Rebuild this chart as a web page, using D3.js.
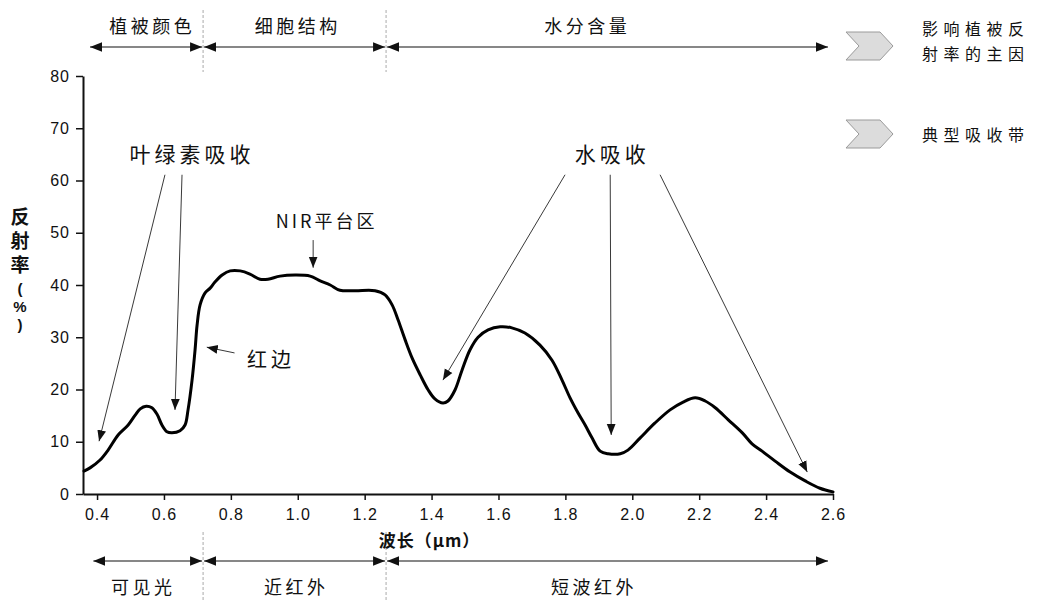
<!DOCTYPE html>
<html><head><meta charset="utf-8">
<script src="https://cdn.jsdelivr.net/npm/d3@7"></script>
<style>
body{margin:0;background:#fff;}
svg{display:block;}
text{font-family:"Liberation Sans","Noto Sans CJK SC",sans-serif;fill:#111;}
.cjk{font-family:"Noto Sans CJK SC","Liberation Sans",sans-serif;}
</style></head>
<body><svg id="chart" width="1039" height="602"></svg>
<script>
// ---- data ----
const wavelength = [0.361,0.379,0.409,0.433,0.463,0.493,0.514,0.529,0.547,0.564,0.579,0.594,0.609,0.624,0.648,0.663,0.672,0.684,0.693,0.699,0.708,0.723,0.738,0.753,0.774,0.798,0.828,0.857,0.887,0.911,0.947,0.992,1.037,1.067,1.097,1.126,1.171,1.231,1.261,1.282,1.300,1.321,1.342,1.366,1.390,1.410,1.434,1.449,1.470,1.491,1.515,1.539,1.569,1.605,1.640,1.679,1.724,1.760,1.790,1.814,1.838,1.859,1.880,1.904,1.928,1.964,1.987,2.023,2.068,2.113,2.152,2.188,2.218,2.248,2.287,2.329,2.358,2.388,2.427,2.472,2.517,2.561,2.600];
const reflectance = [4.4,5.0,6.5,8.4,11.3,13.2,15.1,16.3,16.8,16.5,15.3,13.2,11.9,11.7,12.1,13.2,16.1,21.8,27.6,32.3,36.2,38.5,39.4,40.6,41.9,42.7,42.7,42.1,41.1,41.1,41.7,41.9,41.7,40.8,40.0,39.0,38.9,38.9,38.1,36.2,33.3,29.5,26.0,22.8,19.9,18.2,17.4,17.8,19.9,23.7,27.6,30.0,31.4,32.0,31.8,30.8,28.5,25.6,21.8,18.4,15.5,13.2,10.7,8.2,7.7,7.7,8.4,10.7,13.6,16.1,17.6,18.4,17.8,16.5,14.2,11.7,9.6,8.2,6.3,4.2,2.5,1.1,0.4];
const xTicks = [0.4,0.6,0.8,1.0,1.2,1.4,1.6,1.8,2.0,2.2,2.4,2.6];
const yTicks = [0,10,20,30,40,50,60,70,80];
const xDomain = [0.358, 2.6];
const yDomain = [0, 80];
const boundaries = [0.717, 1.264];
const topLabels = ["植被颜色","细胞结构","水分含量"];
const topLabelPos = [0.56, 0.995, 1.86];
const topSpanEdges = [0.379, 0.717, 1.264, 2.585];
const bottomLabels = ["可见光","近红外","短波红外"];
const bottomLabelPos = [0.533, 0.99, 1.88];
const bottomSpanEdges = [0.389, 0.717, 1.264, 2.585];
const yLabelChars = ["反","射","率","(","%",")"];
const xLabel = "波长（μm）";
const legendLabels = [["影响植被反","射率的主因"],["典型吸收带"]];
// annotations in data coordinates [wavelength, reflectance]
const annotations = [
  {text:"叶绿素吸收", at:[0.678,65.3], size:21, ls:4, arrows:[[[0.603,61.1],[0.406,10.1]],[[0.654,61.1],[0.633,16.1]]]},
  {text:"水吸收", at:[1.934,65.3], size:21, ls:4, arrows:[[[1.799,61.1],[1.434,21.8]],[[1.934,61.1],[1.937,11.3]],[[2.083,61.1],[2.523,4.2]]]},
  {text:"NIR平台区", at:[1.082,52.4], size:18, ls:3, arrows:[[[1.046,48.6],[1.046,43.3]]]},
  {text:"红边", at:[0.848,26.0], size:20, ls:4, anchor:"start", arrows:[[[0.811,27.0],[0.728,28.1]]]}
];

// ---- drawing ----
const svg = d3.select("#chart");
const x = d3.scaleLinear().domain(xDomain).range([83, 833]);
const y = d3.scaleLinear().domain(yDomain).range([494, 76]);

const defs = svg.append("defs");
function marker(id, size){
  defs.append("marker").attr("id", id).attr("viewBox","0 0 10 10").attr("refX",10).attr("refY",5)
    .attr("markerWidth", size).attr("markerHeight", size).attr("markerUnits","userSpaceOnUse")
    .attr("orient","auto-start-reverse")
    .append("path").attr("d","M0,1 L10,5 L0,9 z").attr("fill","#111");
}
marker("ah", 11);
marker("ahs", 12);

// axes
const yAxis = d3.axisLeft(y).tickValues(yTicks).tickSize(7).tickSizeOuter(0).tickPadding(6).tickFormat(d3.format("d"));
const gy = svg.append("g").attr("transform","translate(83,0)").call(yAxis);
const xAxis = d3.axisBottom(x).tickValues(xTicks).tickSize(6).tickSizeOuter(0).tickPadding(6).tickFormat(d3.format(".1f"));
const gx = svg.append("g").attr("transform","translate(0,494)").call(xAxis);
[gy,gx].forEach(g=>{
  g.select(".domain").attr("stroke","#111").attr("stroke-width",2);
  g.selectAll(".tick line").attr("stroke","#111").attr("stroke-width",1.5);
  g.selectAll(".tick text").attr("font-size",16).attr("letter-spacing",1)
    .attr("font-family","'Liberation Sans',sans-serif").attr("fill","#111");
});
gx.selectAll(".tick text").attr("dy","0.85em");

// boundaries (dashed)
boundaries.forEach(b=>{
  svg.append("line").attr("x1",x(b)).attr("x2",x(b)).attr("y1",10).attr("y2",72)
    .attr("stroke","#aaa").attr("stroke-width",1).attr("stroke-dasharray","3,2");
  svg.append("line").attr("x1",x(b)).attr("x2",x(b)).attr("y1",532).attr("y2",602)
    .attr("stroke","#aaa").attr("stroke-width",1).attr("stroke-dasharray","3,2");
});

function spans(edges, yy){
  for(let i=0;i<edges.length-1;i++){
    const a = x(edges[i]) + (i>0?1:0), b = x(edges[i+1]) - (i<edges.length-2?1:0);
    svg.append("line").attr("x1",a).attr("x2",b).attr("y1",yy).attr("y2",yy)
      .attr("stroke","#111").attr("stroke-width",1.2)
      .attr("marker-start","url(#ahs)").attr("marker-end","url(#ahs)");
  }
}
spans(topSpanEdges, 47);
spans(bottomSpanEdges, 561);

function label(txt, px, py, size, ls, opts={}){
  return svg.append("text").attr("class","cjk").attr("x",px + (opts.anchor==="start"?0:ls/2)).attr("y",py)
    .attr("text-anchor",opts.anchor||"middle").attr("dominant-baseline","central")
    .attr("font-size",size).attr("letter-spacing",ls).attr("font-weight",opts.bold?"bold":"normal")
    .text(txt);
}
topLabels.forEach((t,i)=>label(t, x(topLabelPos[i]), 25, 18, 3.5));
bottomLabels.forEach((t,i)=>label(t, x(bottomLabelPos[i]), 586, 18, 3.5));

// y-axis title (vertical stack)
const yLabelOffsets = [0, 24, 48, 71, 89, 107];
yLabelChars.forEach((c,i)=>{
  svg.append("text").attr("x",20).attr("y",217 + yLabelOffsets[i])
    .attr("text-anchor","middle").attr("dominant-baseline","central")
    .attr("font-family", i<3 ? "'Noto Sans CJK SC',sans-serif" : "'Liberation Sans',sans-serif")
    .attr("font-weight","bold").attr("font-size",i<3?19:15).text(c);
});
// x-axis title
label(xLabel, 429, 539, 17, 1, {bold:true});

// curve
const line = d3.line().x(d=>x(d[0])).y(d=>y(d[1])).curve(d3.curveCatmullRom.alpha(0.5));
svg.append("path").datum(wavelength.map((w,i)=>[w,reflectance[i]]))
  .attr("d",line).attr("fill","none").attr("stroke","#000").attr("stroke-width",3)
  .attr("stroke-linejoin","round").attr("stroke-linecap","round");

// annotations
annotations.forEach(a=>{
  const px = x(a.at[0]), py = y(a.at[1]);
  label(a.text, px, py, a.size, a.ls, {anchor:a.anchor});
  a.arrows.forEach(ar=>{
    svg.append("line").attr("x1",x(ar[0][0])).attr("y1",y(ar[0][1]))
      .attr("x2",x(ar[1][0])).attr("y2",y(ar[1][1]))
      .attr("stroke","#222").attr("stroke-width",0.9).attr("marker-end","url(#ah)");
  });
});

// legend
const legendY = [46, 134];
const legendTextY = [[28, 53], [134]];
legendY.forEach((ly,i)=>{
  const x0=846, w=47, h=28, n=13;
  svg.append("path")
    .attr("d",`M${x0},${ly-h/2} L${x0+w-n},${ly-h/2} L${x0+w},${ly} L${x0+w-n},${ly+h/2} L${x0},${ly+h/2} L${x0+n},${ly} Z`)
    .attr("fill","#dcdcdc").attr("stroke","#9a9a9a").attr("stroke-width",1);
  legendLabels[i].forEach((t,j)=>{
    label(t, 922, legendTextY[i][j], 16, 5.5, {anchor:"start"});
  });
});
</script></body></html>
